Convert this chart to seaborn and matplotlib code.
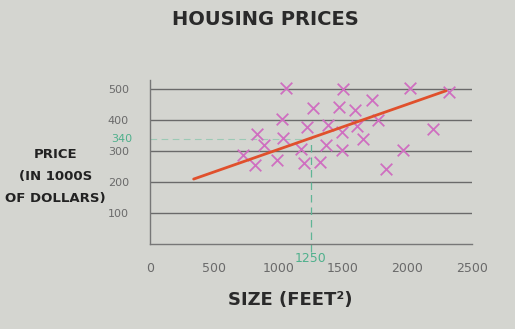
import matplotlib
matplotlib.use("Agg")
import matplotlib.pyplot as plt
import seaborn as sns
import pandas as pd

# Data
size_sqft = [725, 816, 834, 886, 990, 1023, 1036, 1054, 1171, 1199, 1223, 1269, 1321,
             1368, 1381, 1472, 1490, 1495, 1502, 1593, 1611, 1658, 1723, 1775, 1834,
             1964, 2021, 2202, 2326]
price_k = [287, 255, 357, 320, 273, 405, 341, 505, 306, 262, 378, 439, 265,
           320, 385, 442, 362, 305, 500, 432, 380, 340, 464, 400, 241,
           305, 505, 372, 490]
fit_x = [340, 2300]
fit_y = [210, 495]
query_x = 1250
query_y = 340
x_ticks = [0, 500, 1000, 1500, 2000, 2500]
y_ticks = [100, 200, 300, 400, 500]

bg = "#d4d5d0"
sns.set_theme(style="white")
plt.rcParams['font.family'] = ['DejaVu Sans']

fig = plt.figure(figsize=(5.15, 3.29), dpi=100, facecolor=bg)
ax = fig.add_axes([0.291, 0.258, 0.625, 0.499])
ax.set_facecolor(bg)

ax.set_xlim(0, 2500)
ax.set_ylim(0, 530)

for y in y_ticks:
    ax.axhline(y, color="#6a6a6a", lw=1.0, zorder=1)

# guide lines
ax.plot([0, query_x], [query_y, query_y], color="#9cc9b5", lw=0.8, ls=(0, (6, 4)), zorder=1)
ax.plot([query_x, query_x], [-25, query_y], color="#5fb596", lw=0.9, ls=(0, (6, 4)),
        zorder=1, clip_on=False)

df = pd.DataFrame({"size": size_sqft, "price": price_k})
sns.scatterplot(data=df, x="size", y="price", marker="x", color="#cf6fc0",
                s=70, linewidth=1.3, ax=ax, zorder=3)
fit = pd.DataFrame({"x": fit_x, "y": fit_y})
sns.lineplot(data=fit, x="x", y="y", color="#e0502c", lw=2.0, ax=ax, zorder=4)

for s in ["top", "right"]:
    ax.spines[s].set_visible(False)
for s in ["left", "bottom"]:
    ax.spines[s].set_color("#777777")
    ax.spines[s].set_linewidth(1.0)

ax.set_xticks(x_ticks)
ax.set_xticklabels([str(t) for t in x_ticks], color="#6a6a6a", fontsize=9)
ax.set_yticks(y_ticks)
ax.set_yticklabels([str(t) for t in y_ticks], color="#6a6a6a", fontsize=8)
ax.tick_params(axis="x", direction="inout", length=6, color="#777777", pad=10)
ax.tick_params(axis="y", direction="out", length=5, color="#777777", pad=10)
ax.set_xlabel("")
ax.set_ylabel("")

ax.text(-0.055, query_y, str(query_y), transform=ax.get_yaxis_transform(),
        color="#4fb08c", fontsize=8, ha="right", va="center")
ax.text(query_x, -0.045, str(query_x), transform=ax.get_xaxis_transform(),
        color="#4fb08c", fontsize=9, ha="center", va="top")

fig.text(0.515, 0.94, "HOUSING PRICES", ha="center", va="center",
         fontsize=14, fontweight="bold", color="#2a2a2a")
fig.text(0.108, 0.465, "PRICE\n(IN 1000S\nOF DOLLARS)", ha="center", va="center",
         fontsize=9.5, fontweight="bold", color="#222222", linespacing=1.9)
fig.text(0.563, 0.088, "SIZE (FEET²)", ha="center", va="center",
         fontsize=13, fontweight="bold", color="#2a2a2a")

fig.savefig("out.png", dpi=100, facecolor=bg)
